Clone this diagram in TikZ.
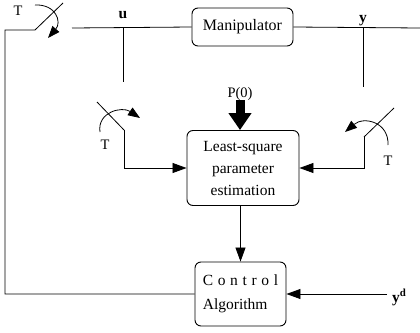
\documentclass[tikz,border=0pt]{standalone}
\usepackage{fontspec}
\setmainfont{Liberation Serif}
\usetikzlibrary{arrows.meta}
\begin{document}
\begin{tikzpicture}[x=1pt,y=-1pt,
  wire/.style={line width=0.8pt},
  blk/.style={draw, line width=0.9pt, rounded corners=6pt, inner sep=0pt},
  tip/.style={-{Triangle[length=14pt,width=10pt]}},
  turn/.style={line width=0.8pt,-{Triangle[length=12pt,width=9pt]}},
  lbl/.style={inner sep=0pt, font=\fontsize{14.5}{16}\selectfont},
  boldlbl/.style={inner sep=0pt, font=\bfseries\fontsize{15.5}{17}\selectfont}
]
\useasboundingbox (0,0) rectangle (420,332);

% blocks
\node[blk, minimum width=101pt, minimum height=38pt,
      font=\fontsize{16}{18}\selectfont] (man) at (242.5,27) {Manipulator};
\node[blk, minimum width=112pt, minimum height=75pt, align=center,
      font=\fontsize{15.5}{22}\selectfont] (lse) at (243,168) {Least-square\\parameter\\estimation};
\node[blk, minimum width=91pt, minimum height=64pt, align=left,
      font=\fontsize{15.5}{24}\selectfont] (ctl) at (240.5,294)
      {{\addfontfeature{LetterSpace=30}Control}\\Algorithm};

% labels
\node[boldlbl, anchor=base] (ulbl) at (123,18) {u};
\node[boldlbl, anchor=base] (ylbl) at (363,22) {y};
\node[lbl, anchor=base] (p0) at (240,97) {P(0)};
\node[lbl, anchor=base] (t1) at (18,15) {T};
\node[lbl, anchor=base] (t2) at (105,149) {T};
\node[lbl, anchor=base] (t3) at (388,165) {T};
\node[boldlbl, anchor=base west] (ydlbl) at (392,302) {y\textsuperscript{d}};

% points of the wiring
\coordinate (uStart) at (72,28);
\coordinate (yEnd) at (420,28);
\coordinate (uTap) at (123,28);
\coordinate (uTapEnd) at (123,82);
\coordinate (yTap) at (363,28);
\coordinate (yTapEnd) at (363,87);
\coordinate (swA) at (35,30);
\coordinate (swAtop) at (63,3);
\coordinate (loopTL) at (5,30);
\coordinate (swB1) at (97,102);
\coordinate (swB2) at (124,130);
\coordinate (swC1) at (394,108);
\coordinate (swC2) at (364,137);
\coordinate (ydStart) at (387,294);

% forward path
\draw[wire] (uStart) -- (man.west);
\draw[wire] (man.east) -- (yEnd);
\draw[wire] (uTap) -- (uTapEnd);
\draw[wire] (yTap) -- (yTapEnd);

% sampled inputs to the estimator
\draw[wire] (swB1) -- (swB2);
\draw[wire, tip] (swB2) -- (swB2 |- lse.west) -- (lse.west);
\draw[wire] (swC1) -- (swC2);
\draw[wire, tip] (swC2) -- (swC2 |- lse.east) -- (lse.east);

% initial covariance
\draw[line width=9pt, -{Triangle[length=17pt,width=22pt]}] (p0.south) -- (p0.south |- lse.north);

% estimator to controller
\draw[wire, tip] (ctl.north |- lse.south) -- (ctl.north);
\draw[wire, tip] (ydStart) -- (ctl.east);

% feedback loop through the output switch
\draw[wire] (swAtop) -- (swA) -- (loopTL) -- (loopTL |- ctl.west) -- (ctl.west);

% sampling arrows
\draw[turn] (35,5) .. controls (56,4) and (62,22) .. (48,38);
\draw[turn] (100,132) .. controls (97,112) and (122,106) .. (140,118);
\draw[turn] (388,145) .. controls (389,122) and (364,116) .. (345,132);
\end{tikzpicture}
\end{document}
